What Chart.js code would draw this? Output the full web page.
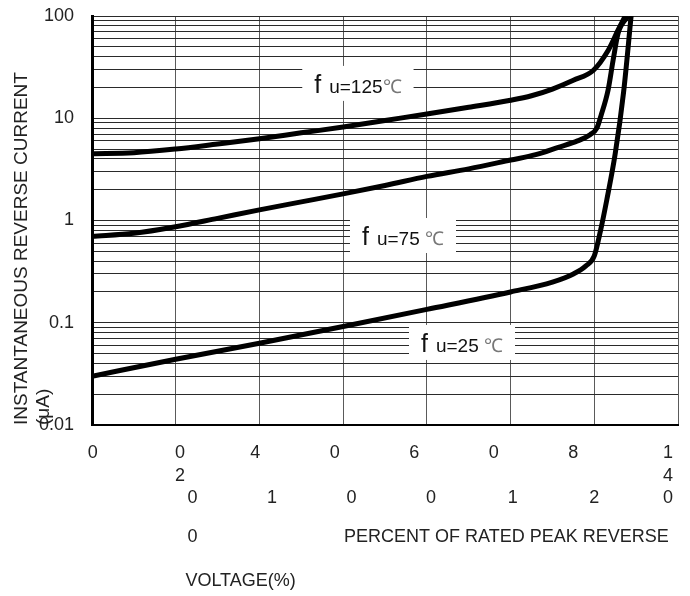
<!DOCTYPE html>
<html>
<head>
<meta charset="utf-8">
<script src="https://cdn.jsdelivr.net/npm/chart.js@4.4.1/dist/chart.umd.min.js"></script>
<style>
  html, body { margin: 0; padding: 0; background: #ffffff; }
  #reverseChart { display: block; }
</style>
</head>
<body>
<canvas id="reverseChart" width="690" height="596" style="width:690px;height:596px"></canvas>
<script>
/*
----------------------
Values
----------------------
*/
var percent_125 = [0, 10, 20, 30, 40, 50, 60, 70, 80, 90, 100, 105, 110, 115, 119.8, 123.3, 125.7, 127.4];
var current_125 = [4.5, 4.6, 5.0, 5.6, 6.3, 7.2, 8.2, 9.5, 11.0, 12.8, 15.0, 16.6, 19.3, 23.5, 29.5, 46, 73, 100];

var percent_75 = [0, 10, 20, 30, 40, 50, 60, 70, 80, 90, 100, 106, 111.4, 116, 119, 120.6, 121.6, 123.3, 124.5, 125.7, 128.1];
var current_75 = [0.70, 0.75, 0.87, 1.05, 1.27, 1.52, 1.82, 2.2, 2.7, 3.2, 3.9, 4.4, 5.2, 6.0, 6.9, 8.0, 10.6, 18.9, 37, 68, 100];

var percent_25 = [0, 20, 40, 60, 80, 100, 110, 115, 118, 120, 121.5, 123, 125, 127, 128.8];
var current_25 = [0.030, 0.044, 0.063, 0.092, 0.135, 0.20, 0.25, 0.30, 0.36, 0.45, 0.8, 1.6, 4.5, 18, 100];

/*
----------------------
Axis ticks and labels
----------------------
*/
var x_grid_ticks = [0, 20, 40, 60, 80, 100, 120, 140];

// first block of x labels (three text rows, as in the reference)
var x_row_a_values = [0.2, 21, 39, 58, 77, 96, 115, 137.6, 24, 43, 62, 81, 100.5, 120];
var x_row_a_labels = [
  ["0"], ["0", "2"], ["4"], ["0"], ["6"], ["0"], ["8"], ["1", "4", "0"],
  ["", "", "0"], ["", "", "1"], ["", "", "0"], ["", "", "0"], ["", "", "1"], ["", "", "2"]
];

var x_row_b_values = [24, 99];
var x_row_b_labels = ["0", "PERCENT OF RATED PEAK REVERSE"];

var x_row_c_values = [35.5];
var x_row_c_labels = ["VOLTAGE(%)"];

var y_major_ticks = [0.01, 0.1, 1, 10, 100];
var y_tick_labels = ["0.01", "0.1", "1", "10", "100"];
var y_minor_steps = [1, 2, 3, 4, 5, 6, 7, 8, 9];

var y_title_lines = ["INSTANTANEOUS REVERSE CURRENT", "(\u03bcA)"];

/*
----------------------
Curve labels (anchor = left end of text baseline, in data units)
----------------------
*/
var label_texts = ["u=125", "u=75 ", "u=25 "];
var label_x = [53.1, 64.5, 78.6];
var label_y = [17.7, 0.576, 0.0518];

var font_family = "'Liberation Sans', Arial, sans-serif";
var reverse_chart = null;

/*
----------------------
Turns two parallel lists into {x, y} points
----------------------
*/
function to_points(x_list, y_list) {
  var points = [];
  for (var i = 0; i < x_list.length; i++) {
    points.push({ x: x_list[i], y: y_list[i] });
  }
  return points;
}

function fixed_ticks(values) {
  return function (axis) {
    axis.ticks = values.map(function (v) { return { value: v }; });
  };
}

/*
----------------------
Draws the white boxes with "f u=..℃" on top of the grid
----------------------
*/
var curve_label_plugin = {
  id: "curve_labels",
  afterDatasetsDraw: function (chart) {
    var ctx = chart.ctx;
    var x_scale = chart.scales.x;
    var y_scale = chart.scales.y;

    for (var i = 0; i < label_texts.length; i++) {
      var px = x_scale.getPixelForValue(label_x[i]);
      var py = y_scale.getPixelForValue(label_y[i]);

      ctx.save();
      ctx.font = "25px " + font_family;
      var w_f = ctx.measureText("f").width;
      ctx.font = "19px " + font_family;
      var w_text = ctx.measureText(label_texts[i]).width;
      var w_unit = ctx.measureText("\u2103").width;
      var total = w_f + 8 + w_text + w_unit;

      ctx.fillStyle = "#ffffff";
      ctx.fillRect(px - 12, py - 27, total + 24, 35);

      ctx.textBaseline = "alphabetic";
      ctx.textAlign = "left";
      ctx.fillStyle = "#111111";
      ctx.font = "25px " + font_family;
      ctx.fillText("f", px, py);
      ctx.font = "19px " + font_family;
      ctx.fillText(label_texts[i], px + w_f + 8, py);
      ctx.fillStyle = "#777777";
      ctx.fillText("\u2103", px + w_f + 8 + w_text, py);
      ctx.restore();
    }
  }
};

function render_reverse_chart() {
  var canvas = document.getElementById("reverseChart");
  if (!canvas) {
    return;
  }
  var context = canvas.getContext("2d");

  Chart.defaults.font.family = font_family;
  Chart.defaults.color = "#222222";

  var line_style = {
    borderColor: "#000000",
    borderWidth: 5,
    pointRadius: 0,
    fill: false,
    cubicInterpolationMode: "monotone",
    xAxisID: "x",
    yAxisID: "y"
  };

  var y_ticks_all = [];
  y_major_ticks.forEach(function (d, k) {
    if (k === y_major_ticks.length - 1) {
      y_ticks_all.push(d);
      return;
    }
    y_minor_steps.forEach(function (m) {
      y_ticks_all.push(d * m);
    });
  });

  reverse_chart = new Chart(context, {
    type: "line",
    data: {
      datasets: [
        Object.assign({ label: "125", data: to_points(percent_125, current_125) }, line_style),
        Object.assign({ label: "75", data: to_points(percent_75, current_75) }, line_style),
        Object.assign({ label: "25", data: to_points(percent_25, current_25) }, line_style)
      ]
    },
    options: {
      responsive: false,
      animation: false,
      layout: { padding: { top: 16, right: 12, left: 0, bottom: 0 } },
      plugins: {
        legend: { display: false },
        tooltip: { enabled: false }
      },
      scales: {
        x: {
          type: "linear",
          position: "bottom",
          weight: 0,
          min: 0,
          max: 140,
          afterBuildTicks: fixed_ticks(x_grid_ticks),
          ticks: { display: false },
          grid: { color: "#5a5a5a", lineWidth: 1, drawTicks: false },
          border: { display: true, color: "#000000", width: 2 }
        },
        x_row_a: {
          type: "linear",
          position: "bottom",
          weight: 1,
          min: 0,
          max: 140,
          afterBuildTicks: fixed_ticks(x_row_a_values),
          afterFit: function (axis) { axis.height = 100; },
          grid: { display: false, drawTicks: false },
          border: { display: false },
          ticks: {
            autoSkip: false,
            maxRotation: 0,
            minRotation: 0,
            padding: 17,
            font: { size: 18, lineHeight: 1.25 },
            callback: function (value, index) { return x_row_a_labels[index]; }
          }
        },
        x_row_b: {
          type: "linear",
          position: "bottom",
          weight: 2,
          min: 0,
          max: 140,
          afterBuildTicks: fixed_ticks(x_row_b_values),
          afterFit: function (axis) { axis.height = 44; },
          grid: { display: false, drawTicks: false },
          border: { display: false },
          ticks: {
            autoSkip: false,
            maxRotation: 0,
            minRotation: 0,
            padding: 1,
            font: { size: 18, lineHeight: 1.25 },
            callback: function (value, index) { return x_row_b_labels[index]; }
          }
        },
        x_row_c: {
          type: "linear",
          position: "bottom",
          weight: 3,
          min: 0,
          max: 140,
          afterBuildTicks: fixed_ticks(x_row_c_values),
          afterFit: function (axis) { axis.height = 27; },
          grid: { display: false, drawTicks: false },
          border: { display: false },
          ticks: {
            autoSkip: false,
            maxRotation: 0,
            minRotation: 0,
            padding: 1,
            font: { size: 18, lineHeight: 1.25 },
            callback: function (value, index) { return x_row_c_labels[index]; }
          }
        },
        y: {
          type: "logarithmic",
          position: "left",
          min: 0.01,
          max: 100,
          afterBuildTicks: fixed_ticks(y_ticks_all),
          afterFit: function (axis) { axis.width = 92; },
          ticks: {
            autoSkip: false,
            padding: 0,
            font: { size: 18 },
            callback: function (value) {
              var idx = y_major_ticks.indexOf(value);
              return idx >= 0 ? y_tick_labels[idx] : "";
            }
          },
          grid: { color: "#2a2a2a", lineWidth: 1, drawTicks: true, tickLength: 18, tickColor: "rgba(0,0,0,0)" },
          border: { display: true, color: "#000000", width: 3 },
          title: {
            display: true,
            text: y_title_lines,
            align: "start",
            color: "#222222",
            font: { size: 19, lineHeight: 1.2 },
            padding: { top: 10, bottom: 0 }
          }
        }
      }
    },
    plugins: [curve_label_plugin]
  });
}

render_reverse_chart();
</script>
</body>
</html>
